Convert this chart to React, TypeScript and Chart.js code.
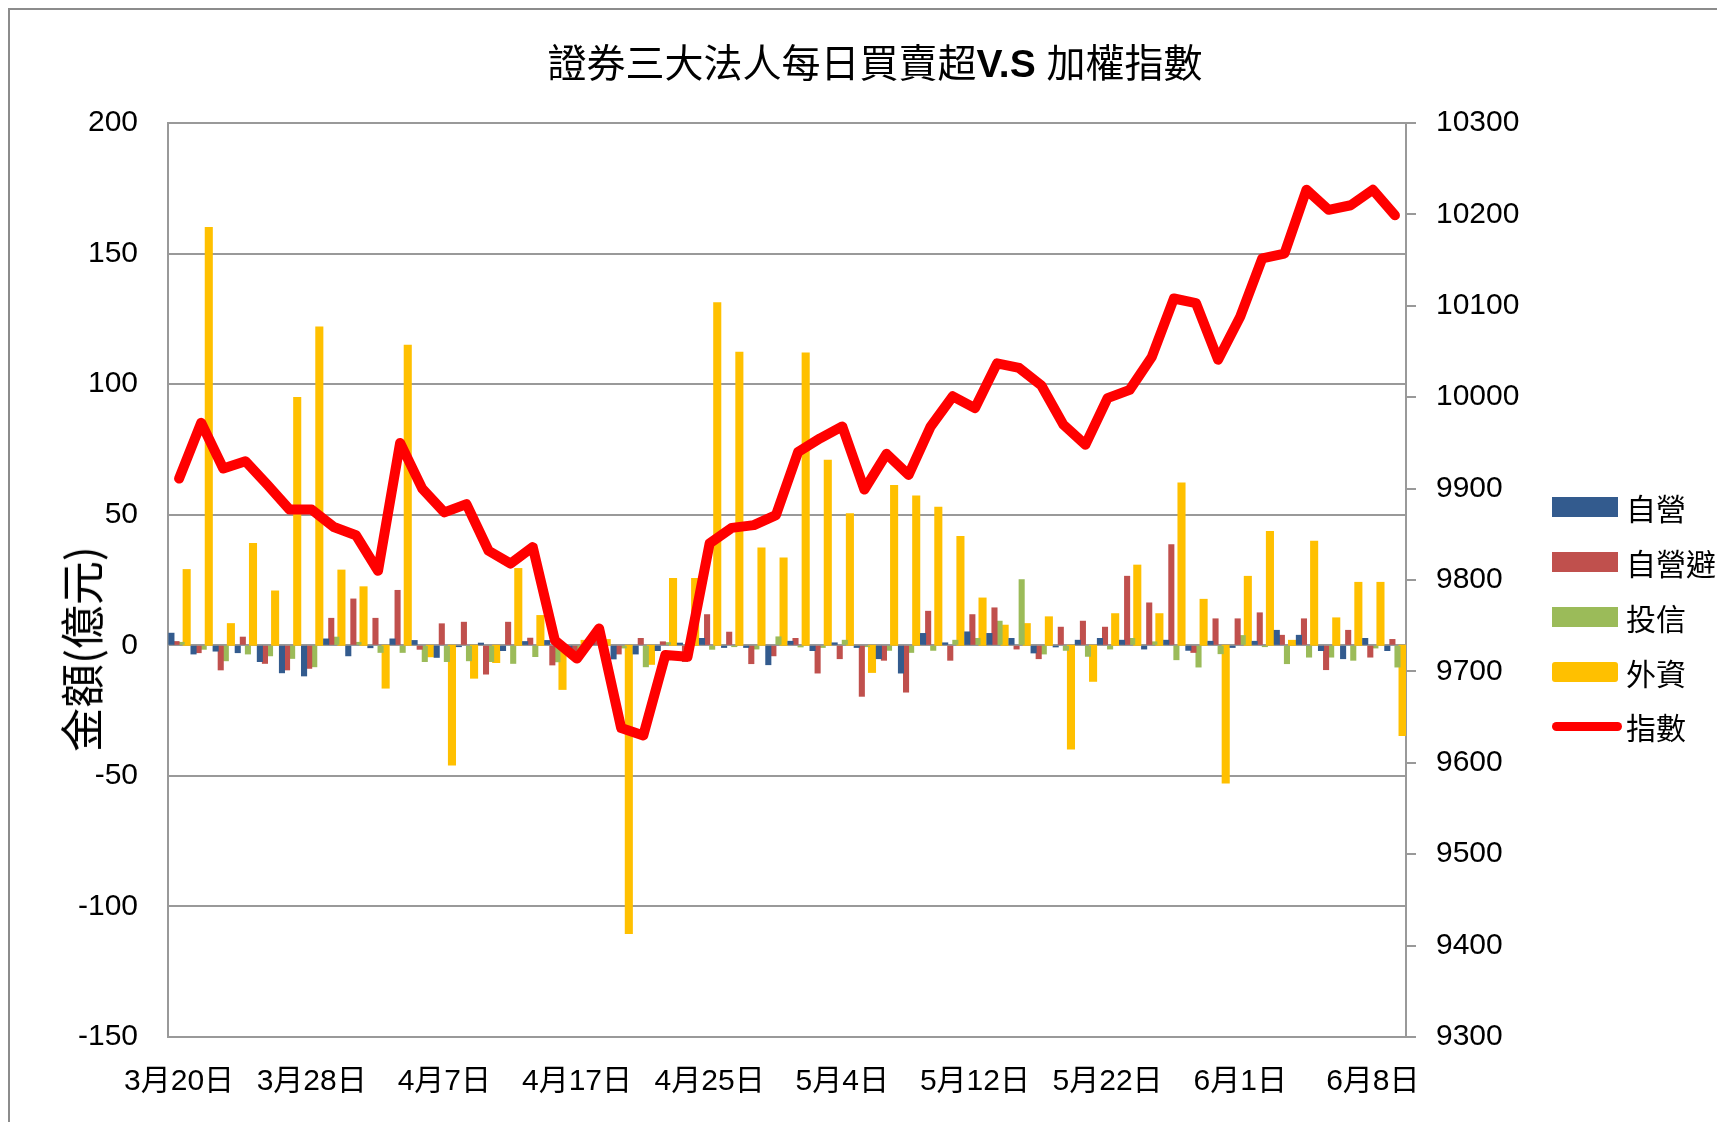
import React, { useEffect, useRef } from 'react';
import { Chart, registerables } from 'chart.js';

Chart.register(...registerables);

const dates = [
  '3月20日', '3月21日', '3月22日', '3月23日', '3月24日', '3月27日', '3月28日', '3月29日', '3月30日', '3月31日',
  '4月5日', '4月6日', '4月7日', '4月10日', '4月11日', '4月12日', '4月13日', '4月14日', '4月17日', '4月18日',
  '4月19日', '4月20日', '4月21日', '4月24日', '4月25日', '4月26日', '4月27日', '4月28日', '5月2日', '5月3日',
  '5月4日', '5月5日', '5月8日', '5月9日', '5月10日', '5月11日', '5月12日', '5月15日', '5月16日', '5月17日',
  '5月18日', '5月19日', '5月22日', '5月23日', '5月24日', '5月25日', '5月26日', '5月31日', '6月1日', '6月2日',
  '6月3日', '6月5日', '6月6日', '6月7日', '6月8日', '6月9日',
];

// 自營
const ziying = [
  4.6, -3.3, -2.2, -2.8, -6.2, -10.5, -11.7, 2.4, -4.0, -0.9,
  2.4, 1.8, -4.6, -0.5, 0.8, -2.0, 1.4, 1.8, -1.5, 1.0,
  -5.2, -3.3, -2.0, 0.8, 2.6, -0.8, -0.8, -7.4, 1.5, -2.0,
  0.9, -0.8, -5.1, -10.6, 4.5, 0.9, 5.1, 4.5, 2.6, -2.9,
  -0.6, 1.9, 2.6, 1.9, -1.4, 1.9, -1.9, 1.5, -0.8, 1.5,
  5.7, 3.8, -2.0, -5.1, 2.6, -2.0,
];

// 自營避
const ziyingBi = [
  1.4, -2.8, -9.4, 3.1, -6.9, -9.4, -8.8, 10.3, 17.7, 10.3,
  21.0, -1.5, 8.2, 8.8, -11.0, 8.8, 2.7, -7.5, -3.0, 2.0,
  -3.3, 2.6, 1.3, -6.2, 11.7, 5.0, -7.0, -4.0, 2.6, -10.6,
  -5.1, -19.5, -5.7, -17.9, 13.0, -5.7, 11.7, 14.3, -1.4, -5.1,
  6.9, 9.2, 6.9, 26.4, 16.2, 38.5, -2.7, 10.1, 10.1, 12.4,
  3.8, 10.1, -9.3, 5.7, -4.5, 2.2,
];

// 投信
const touxin = [
  1.1, -1.5, -5.9, -3.3, -4.0, -5.0, -8.2, 3.1, 1.1, -2.7,
  -2.7, -6.2, -6.2, -5.9, -6.2, -6.9, -4.3, -6.3, -2.0, -1.0,
  -1.0, -8.2, 1.0, -0.5, -1.5, -0.5, -1.4, 3.2, -0.6, -0.8,
  1.9, -0.5, -1.9, -2.7, -1.9, 1.9, 2.6, 9.2, 25.1, -3.3,
  -1.9, -4.2, -1.4, 2.6, 1.3, -5.5, -8.3, -3.2, 3.7, -0.5,
  -7.0, -4.5, -4.5, -5.7, -1.0, -8.3,
];

// 外資
const waizi = [
  28.6, 159.6, 7.9, 38.6, 20.4, 94.5, 121.5, 28.4, 22.0, -16.0,
  114.5, -4.0, -45.5, -12.2, -6.2, 29.0, 11.0, -16.5, 1.5, 1.8,
  -110.0, -6.9, 25.2, 25.2, 130.8, 111.8, 36.9, 33.0, 111.5, 70.5,
  50.0, -10.0, 60.8, 56.8, 52.5, 41.3, 17.7, 7.3, 7.9, 10.5,
  -39.3, -13.4, 11.7, 30.3, 11.7, 61.8, 17.2, -52.4, 26.0, 43.2,
  1.5, 39.5, 10.1, 23.7, 23.7, -34.2,
];

// 指數
const zhishu = [
  9911, 9972, 9922, 9930, 9904, 9877, 9877, 9858, 9849, 9810,
  9950, 9900, 9874, 9883, 9832, 9818, 9836, 9734, 9714, 9747,
  9638, 9630, 9718, 9716, 9840, 9857, 9860, 9871, 9940, 9955,
  9968, 9899, 9938, 9915, 9968, 10001, 9988, 10037, 10032, 10013,
  9970, 9948, 9999, 10008, 10044, 10108, 10103, 10041, 10088, 10152,
  10157, 10227, 10205, 10210, 10227, 10199,
];

const seriesNames = ['自營', '自營避', '投信', '外資', '指數'];
const seriesColors = ['#335B8E', '#C0504D', '#9BBB59', '#FFC000', '#FF0000'];

const FONT = '"Liberation Sans", "Noto Sans CJK TC", sans-serif';
const CW = 1707;
const CH = 1112;

export default function App() {
  const ref = useRef<HTMLCanvasElement>(null);

  useEffect(() => {
    const canvas = ref.current;
    if (!canvas) return;
    const barDs = (i: number, data: number[]) => ({
      type: 'bar' as const,
      label: seriesNames[i],
      data,
      backgroundColor: seriesColors[i],
      borderWidth: 0,
      inflateAmount: i === 3 ? 1.5 : 0.5,
      yAxisID: 'y',
      order: 1,
      barPercentage: 1,
      categoryPercentage: 0.92,
    });
    const chart = new Chart(canvas, {
      type: 'bar',
      data: {
        labels: dates,
        datasets: [
          barDs(0, ziying),
          barDs(1, ziyingBi),
          barDs(2, touxin),
          barDs(3, waizi),
          {
            type: 'line',
            label: seriesNames[4],
            data: zhishu,
            borderColor: seriesColors[4],
            backgroundColor: seriesColors[4],
            borderWidth: 10,
            pointRadius: 0,
            tension: 0,
            borderJoinStyle: 'round',
            borderCapStyle: 'round',
            yAxisID: 'y1',
            order: 0,
          } as any,
        ],
      },
      options: {
        responsive: false,
        animation: false,
        devicePixelRatio: 1,
        layout: { padding: { top: 113, right: CW - 1396 - 120, bottom: CH - 1027 - 70, left: 0 } },
        plugins: {
          legend: { display: false },
          title: { display: false },
          tooltip: { enabled: false },
        },
        scales: {
          x: {
            type: 'category',
            offset: true,
            grid: { display: false, drawTicks: false },
            border: { display: true, color: '#999999', width: 2 },
            ticks: {
              autoSkip: false,
              maxRotation: 0,
              minRotation: 0,
              padding: 27,
              color: '#000',
              font: { size: 30, family: FONT },
              callback: (_v: any, i: number) => (i % 6 === 0 ? dates[i] : ''),
            },
            afterFit: (s: any) => {
              s.height = 70;
            },
          },
          y: {
            position: 'left',
            min: -150,
            max: 200,
            ticks: {
              stepSize: 50,
              padding: 30,
              color: '#000',
              font: { size: 30, family: FONT },
              callback: (v: any) => String(v),
            },
            grid: { color: '#999999', lineWidth: 2, drawTicks: false },
            border: { display: true, color: '#999999', width: 2 },
            afterFit: (s: any) => {
              s.width = 158;
            },
          },
          y1: {
            position: 'right',
            min: 9300,
            max: 10300,
            ticks: {
              stepSize: 100,
              padding: 20,
              color: '#000',
              font: { size: 30, family: FONT },
              callback: (v: any) => String(v),
            },
            grid: { drawOnChartArea: false, drawTicks: true, tickLength: 10, color: '#999999', lineWidth: 2 },
            border: { display: true, color: '#999999', width: 2 },
            afterFit: (s: any) => {
              s.width = 120;
            },
          },
        },
      } as any,
    });
    return () => chart.destroy();
  }, []);

  const legendRows = [497, 552, 607, 662, 716];

  return (
    <div
      style={{
        position: 'relative',
        width: CW,
        height: CH,
        borderLeft: '2px solid #8c8c8c',
        borderTop: '2px solid #8c8c8c',
        background: '#fff',
      }}
    >
      <canvas ref={ref} width={CW} height={CH} style={{ display: 'block', width: CW, height: CH }} />
      <div
        style={{
          position: 'absolute',
          left: 865,
          top: 52,
          transform: 'translate(-50%, -50%)',
          whiteSpace: 'nowrap',
          fontFamily: '"Noto Sans CJK TC", "Liberation Sans", sans-serif',
          fontSize: 39,
          fontWeight: 400,
          color: '#000',
          lineHeight: 1,
        }}
      >
        證券三大法人每日買賣超
        <span style={{ fontFamily: '"Liberation Sans", sans-serif', fontWeight: 'bold' }}>V.S </span>
        加權指數
      </div>
      <div
        style={{
          position: 'absolute',
          left: 70,
          top: 639,
          transform: 'translate(-50%, -50%) rotate(-90deg)',
          whiteSpace: 'nowrap',
          fontFamily: '"Noto Sans CJK TC", serif',
          fontSize: 44,
          color: '#000',
          lineHeight: 1,
        }}
      >
        金額(億元)
      </div>
      {seriesNames.map((name, i) => (
        <div
          key={name}
          style={{
            position: 'absolute',
            left: 1542,
            top: legendRows[i],
            transform: 'translateY(-50%)',
            display: 'flex',
            alignItems: 'center',
            whiteSpace: 'nowrap',
          }}
        >
          {i < 4 ? (
            <div style={{ width: 66, height: 20, background: seriesColors[i], borderRadius: i === 3 ? 3 : 0 }} />
          ) : (
            <div style={{ width: 70, height: 9, background: seriesColors[i], borderRadius: 5 }} />
          )}
          <span
            style={{
              marginLeft: i < 4 ? 8 : 4,
              fontFamily: '"Noto Sans CJK TC", sans-serif',
              fontSize: 30,
              color: '#000',
              lineHeight: 1,
            }}
          >
            {name}
          </span>
        </div>
      ))}
    </div>
  );
}
